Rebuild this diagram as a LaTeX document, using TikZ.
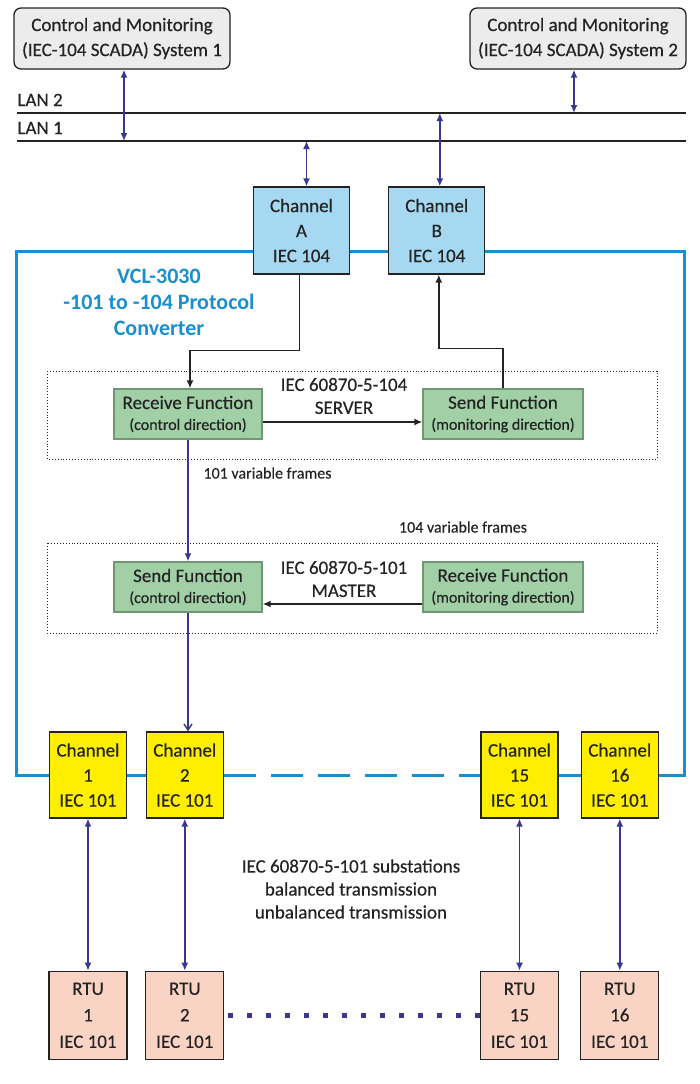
\documentclass[tikz,border=0pt]{standalone}
\usepackage{fontspec}
\setmainfont{Carlito}[UprightFeatures={FakeBold=0.35}]
\usetikzlibrary{arrows.meta,positioning,backgrounds}
\definecolor{ink}{RGB}{35,35,35}
\definecolor{link}{RGB}{58,56,140}
\definecolor{frame}{RGB}{27,143,206}
\definecolor{hostfill}{RGB}{236,236,236}
\definecolor{chanfill}{RGB}{166,216,242}
\definecolor{funcfill}{RGB}{161,208,166}
\definecolor{funcdraw}{RGB}{112,150,116}
\definecolor{portfill}{RGB}{255,238,0}
\definecolor{rtufill}{RGB}{249,212,196}
\newcommand\smalltxt{\fontsize{16}{20}\selectfont}
\tikzset{
  every picture/.style={color=ink, line width=1pt},
  txt/.style={font=\fontsize{19}{25}\selectfont},
  box/.style={draw=ink, line width=1.3pt, inner sep=0pt, align=center, txt},
  host/.style={box, rounded corners=7pt, fill=hostfill, minimum width=216pt, minimum height=61pt},
  chan/.style={box, fill=chanfill, minimum width=96pt, minimum height=87pt},
  func/.style={box, draw=funcdraw, fill=funcfill, minimum height=50pt, font=\fontsize{19}{21}\selectfont},
  port/.style={box, fill=portfill, minimum width=77pt, minimum height=86pt},
  rtu/.style={box, fill=rtufill, minimum width=78pt, minimum height=88pt, font=\fontsize{19}{26.5}\selectfont},
  zone/.style={draw=ink, dotted, line width=0.9pt},
  lan/.style={draw=ink, line width=1.2pt},
  blueline/.style={draw=frame, line width=3pt},
  both/.style={{Latex[length=8pt,width=7pt]}-{Latex[length=8pt,width=7pt]}, color=link, line width=1.5pt},
  down/.style={-{Latex[length=8pt,width=7pt]}, color=link, line width=1.5pt},
  downopen/.style={-{Straight Barb[length=6pt,width=8pt]}, color=link, line width=1.5pt},
  flow/.style={-{Latex[length=8pt,width=7pt]}, color=ink, line width=1.5pt},
  lbl/.style={txt, inner sep=0pt},
  note/.style={font=\smalltxt, inner sep=0pt},
  title/.style={font=\fontsize{22}{26}\selectfont\bfseries, text=frame, align=center, inner sep=0pt},
}
\begin{document}
\begin{tikzpicture}[x=1pt,y=-1pt]
  \useasboundingbox (0,0) rectangle (700,1084);
  % SCADA hosts and the two LANs
  \node[host] (sys1) at (122,38.5) {Control and Monitoring\\(IEC-104 SCADA) System 1};
  \node[host] (sys2) at (578,38.5) {Control and Monitoring\\(IEC-104 SCADA) System 2};
  \coordinate (lan2w) at (17,113); \coordinate (lan2e) at (686,113);
  \coordinate (lan1w) at (17,141); \coordinate (lan1e) at (686,141);
  \draw[lan] (lan2w) -- (lan2e); \draw[lan] (lan1w) -- (lan1e);
  \node[lbl, anchor=west] (l2) at (17,100) {LAN 2};
  \node[lbl, anchor=west] (l1) at (17,128) {LAN 1};
  % converter ports towards the LANs
  \node[chan] (chA) at (301.5,230.5) {Channel\\A\\IEC 104};
  \node[chan, right=38pt of chA] (chB) {Channel\\B\\IEC 104};
  \draw[both] ([xshift=2pt]sys1.south) -- ([xshift=2pt]sys1.south |- lan1w);
  \draw[both] ([xshift=-4pt]sys2.south) -- ([xshift=-4pt]sys2.south |- lan2w);
  \draw[both] ([xshift=5pt]chA.north |- lan1w) -- ([xshift=5pt]chA.north);
  \draw[both] ([xshift=3pt]chB.north |- lan2w) -- ([xshift=3pt]chB.north);
  \node[title] (vcl) at (159,302) {VCL-3030\\-101 to -104 Protocol\\Converter};
  % 104 server side
  \draw[zone] (47,371) rectangle (657,459);
  \node[func, minimum width=148pt] (rcv) at (188,414) {Receive Function\\{\smalltxt (control direction)}};
  \node[func, minimum width=160pt] (snd) at (503,414) {Send Function\\{\smalltxt (monitoring direction)}};
  \node[lbl, align=center, font=\fontsize{19}{23}\selectfont] (srv) at (344,396) {IEC 60870-5-104\\SERVER};
  \draw[flow] ([xshift=-2pt]chA.south) -- ++(0,76) -| ([xshift=2pt]rcv.north);
  \draw[flow] (snd.north) -- ++(0,-40) -| ([xshift=2pt]chB.south);
  \draw[flow] ([yshift=-8pt]rcv.east) -- ([yshift=-8pt]snd.west);
  \node[note, anchor=west] (f101) at (203,473) {101 variable frames};
  % 101 master side
  \node[note] (f104) at (463,527) {104 variable frames};
  \draw[zone] (47,543) rectangle (657,633);
  \node[func, minimum width=148pt] (msnd) at (188,587) {Send Function\\{\smalltxt (control direction)}};
  \node[func, minimum width=160pt] (mrcv) at (503,587) {Receive Function\\{\smalltxt (monitoring direction)}};
  \node[lbl, align=center, font=\fontsize{19}{23}\selectfont] (mst) at (344,579) {IEC 60870-5-101\\MASTER};
  \draw[flow] ([yshift=-17pt]mrcv.west) -- ([yshift=-17pt]msnd.east);
  \draw[down] (rcv.south) -- (msnd.north);
  % serial ports
  \node[port] (p1) at (88,775) {Channel\\1\\IEC 101};
  \node[port, right=18.5pt of p1] (p2) {Channel\\2\\IEC 101};
  \node[port] (p15) at (519.5,775) {Channel\\15\\IEC 101};
  \node[port, right=22pt of p15] (p16) {Channel\\16\\IEC 101};
  \draw[downopen] (msnd.south) -- (msnd.south |- p2.north);
  \begin{scope}[on background layer]
    \draw[blueline] (p2.east) -| (16,251) -| (684,775) -- (p15.west);
    \draw[blueline, dash pattern=on 32pt off 15pt] (p2.east) -- (p15.west);
  \end{scope}
  % substations
  \foreach \n/\k in {1/p1,2/p2,15/p15,16/p16} {
    \node[rtu, below=152pt of \k] (rtu\n) {RTU\\\n\\IEC 101};
    \draw[both] (\k.south) -- (rtu\n.north);
  }
  \draw[link, line width=4.5pt, dash pattern=on 4.5pt off 14.5pt] ([xshift=4pt]rtu2.east) -- (rtu15.west);
  \node[lbl, align=center, font=\fontsize{19}{23}\selectfont] (sub) at (351,889) {IEC 60870-5-101 substations\\balanced transmission\\unbalanced transmission};
\end{tikzpicture}
\end{document}
